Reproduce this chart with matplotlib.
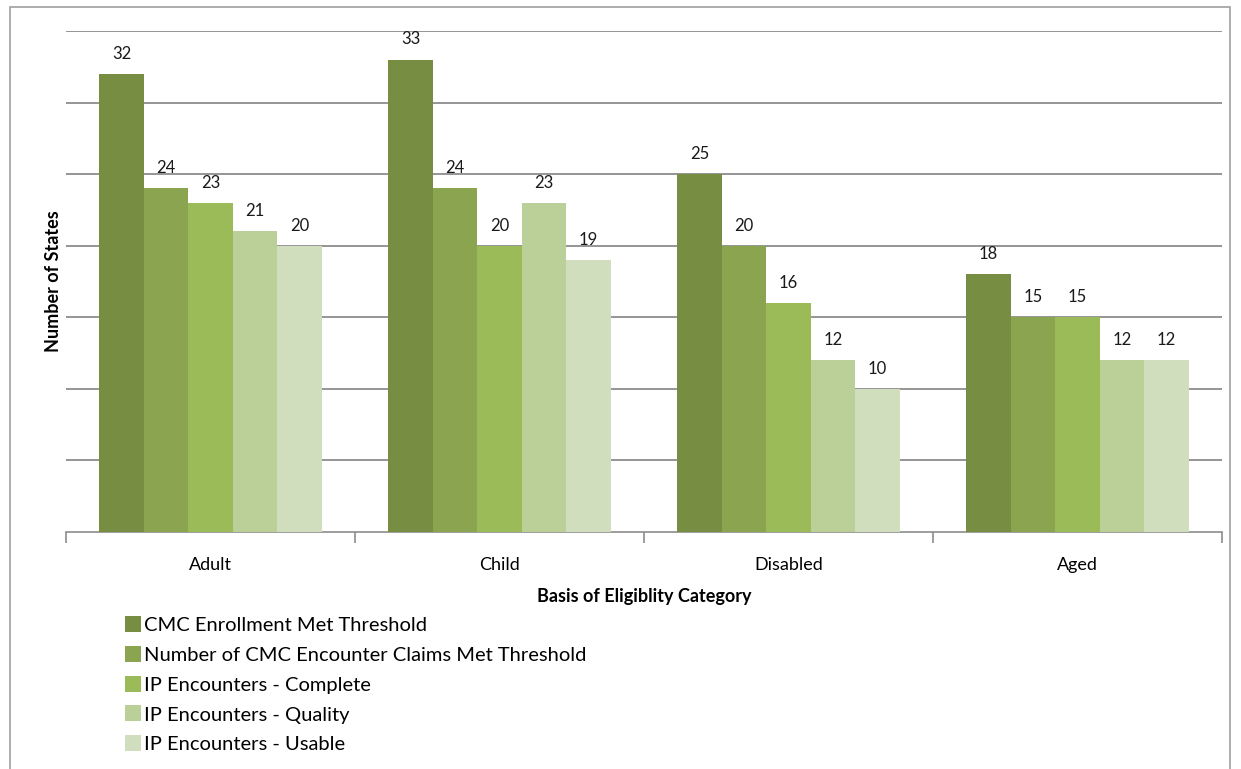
import matplotlib.pyplot as plt
import numpy as np
from matplotlib.patches import Rectangle
from matplotlib.lines import Line2D

categories = ["Adult", "Child", "Disabled", "Aged"]
series_names = ["CMC Enrollment Met Threshold",
                "Number of CMC Encounter Claims Met Threshold",
                "IP Encounters - Complete",
                "IP Encounters - Quality",
                "IP Encounters - Usable"]
enrollment = [32, 33, 25, 18]
claims = [24, 24, 20, 15]
complete = [23, 20, 16, 15]
quality = [21, 23, 12, 12]
usable = [20, 19, 10, 12]
colors = ["#768D42", "#8AA450", "#9BBB59", "#BBCF98", "#D1DEBD"]

plt.rcParams['font.family'] = ['Lato', 'DejaVu Sans']

fig = plt.figure(figsize=(12.41, 7.69), dpi=100)
ax = fig.add_axes([66/1241, 1-532/769, (1222-66)/1241, (532-31)/769])

# outer chart frame
fig.patches.append(Rectangle((10/1241, -0.05), 1220/1241, 1-7/769+0.05,
                             transform=fig.transFigure, fill=False,
                             edgecolor="#A0A0A0", linewidth=1.2))

data = [enrollment, claims, complete, quality, usable]
x = np.arange(len(categories))
w = 0.77 / 5
for i, vals in enumerate(data):
    pos = x + (i - 2) * w
    bars = ax.bar(pos, vals, width=w, color=colors[i], zorder=3, linewidth=0)
    for b, v in zip(bars, vals):
        ax.text(b.get_x() + w/2, v + 0.85, str(v), ha="center", va="bottom",
                fontsize=12, color="#1a1a1a")

ax.set_ylim(0, 35)
ax.set_xlim(-0.5, 3.5)
ax.set_yticks(np.arange(5, 36, 5))
ax.yaxis.grid(True, color="#8C8C8C", linewidth=1.3, zorder=0)
ax.tick_params(axis="y", length=0, labelleft=False)
ax.set_xticks(np.arange(-0.5, 3.6, 1))
ax.set_xticklabels([])
ax.set_xticks(x, minor=True)
ax.set_xticklabels(categories, minor=True, fontsize=13)
ax.tick_params(axis="x", which="major", length=8, color="#8C8C8C", width=1.2)
ax.tick_params(axis="x", which="minor", length=0, pad=18)
for s in ["top", "right", "left"]:
    ax.spines[s].set_visible(False)
ax.spines["bottom"].set_color("#8C8C8C")
ax.spines["bottom"].set_linewidth(1.2)

ax.set_ylabel("Number of States", fontsize=13, fontweight="bold", labelpad=3)
ax.set_xlabel("Basis of Eligiblity Category", fontsize=13, fontweight="bold", labelpad=11)

handles = [Line2D([], [], marker="s", linestyle="", markersize=12,
                  markerfacecolor=c, markeredgewidth=0) for c in colors]
fig.legend(handles, series_names, loc="upper left",
           bbox_to_anchor=(112/1241, 1-607/769), frameon=False, fontsize=14.5,
           handletextpad=0.0, labelspacing=0.63, handlelength=1.1, borderpad=0)

fig.savefig("out.png", dpi=100)
